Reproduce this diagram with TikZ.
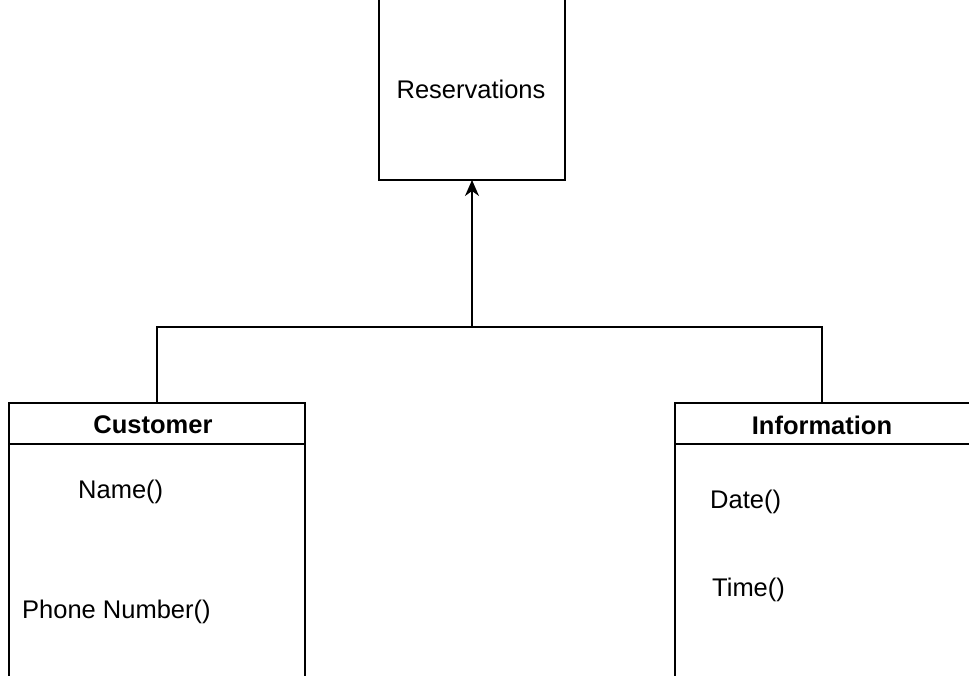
\documentclass[tikz,border=0pt]{standalone}
\usepackage{fontspec}
\setmainfont{Liberation Sans}
\usetikzlibrary{arrows.meta}
\begin{document}
\begin{tikzpicture}[x=1pt,y=-1pt,
  box/.style={draw=black,line width=1.5pt,rectangle,inner sep=0pt,outer sep=0pt},
  txt/.style={inner sep=0pt,font=\fontsize{25.5}{30}\selectfont},
  btxt/.style={inner sep=0pt,font=\fontsize{25.5}{30}\selectfont\bfseries},
  conn/.style={line width=1.5pt,draw=black},
  arr/.style={conn,-{Stealth[length=16pt,width=14pt,inset=5pt]}}]
\useasboundingbox (0,0) rectangle (969,675);
\clip (0,0) rectangle (969,675);
\fill[white] (0,0) rectangle (969,675);
% Reservations
\node[box,minimum width=186pt,minimum height=184pt] (res) at (472,88) {};
\node[txt] (restxt) at (471,89) {Reservations};
% Customer
\node[box,minimum width=296pt,minimum height=41pt] (custhead) at (157,423.5) {};
\node[box,minimum width=296pt,minimum height=270pt,anchor=north] (custbody) at (custhead.south) {};
\node[btxt] (custtxt) at (153,425) {Customer};
\node[txt,anchor=west] (name) at (78,492) {Name()};
\node[txt,anchor=west] (phone) at (22,612) {Phone Number()};
% Information
\node[box,minimum width=316pt,minimum height=41pt,anchor=north west] (infohead) at (675,403) {};
\node[box,minimum width=316pt,minimum height=270pt,anchor=north] (infobody) at (infohead.south) {};
\node[btxt] (infotxt) at (822,425) {Information};
\node[txt,anchor=west] (date) at (710,502) {Date()};
\node[txt,anchor=west] (time) at (712,590) {Time()};
% connectors
\coordinate (j) at (472,327);
\coordinate (jl) at (157,327);
\coordinate (jr) at (822,327);
\draw[conn] (custhead.north -| jl) -- (jl) -- (jr) -- (infohead.north -| jr);
\draw[arr] (j) -- (res.south);
\end{tikzpicture}
\end{document}
